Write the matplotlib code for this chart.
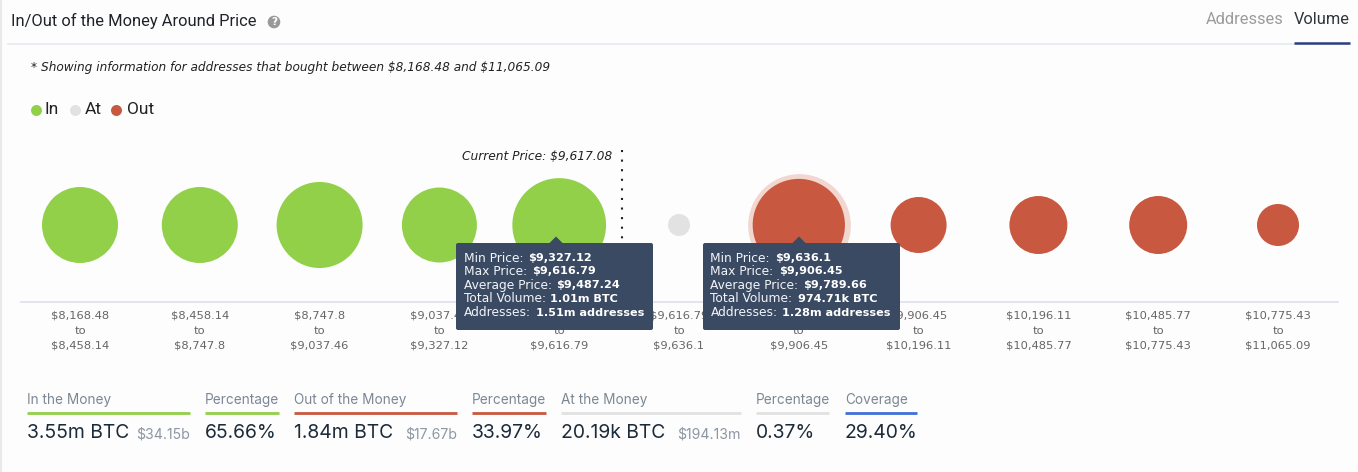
import numpy as np
import matplotlib
matplotlib.use("Agg")
import matplotlib.pyplot as plt
from matplotlib.patches import FancyBboxPatch, Polygon, Circle

plt.rcParams["text.parse_math"] = False

# ---- data ----
range_low = ["$8,168.48", "$8,458.14", "$8,747.8", "$9,037.46", "$9,327.12", "$9,616.79",
             "$9,636.1", "$9,906.45", "$10,196.11", "$10,485.77", "$10,775.43"]
range_high = ["$8,458.14", "$8,747.8", "$9,037.46", "$9,327.12", "$9,616.79", "$9,636.1",
              "$9,906.45", "$10,196.11", "$10,485.77", "$10,775.43", "$11,065.09"]
volume_k = [661, 661, 847, 644, 1005, 20.19, 974.71, 359, 385, 385, 202]
status = ["In", "In", "In", "In", "In", "At", "Out", "Out", "Out", "Out", "Out"]
legend_labels = ["In", "At", "Out"]
tip_left = [("Min Price:", "$9,327.12"), ("Max Price:", "$9,616.79"), ("Average Price:", "$9,487.24"),
            ("Total Volume:", "1.01m BTC"), ("Addresses:", "1.51m addresses")]
tip_right = [("Min Price:", "$9,636.1"), ("Max Price:", "$9,906.45"), ("Average Price:", "$9,789.66"),
             ("Total Volume:", "974.71k BTC"), ("Addresses:", "1.28m addresses")]
stat_heads = ["In the Money", "Percentage", "Out of the Money", "Percentage", "At the Money", "Percentage", "Coverage"]
stat_values = ["3.55m BTC", "65.66%", "1.84m BTC", "33.97%", "20.19k BTC", "0.37%", "29.40%"]
stat_usd = ["$34.15b", "", "$17.67b", "", "$194.13m", "", ""]
stat_kind = ["In", "In", "Out", "Out", "At", "At", "Cov"]

# ---- styles ----
COL = {"In": "#91d048", "At": "#e2e2e2", "Out": "#c95840", "Cov": "#3f6fd8"}
NAVY = "#3a4a63"
W, H = 1358, 472
SANS = "Roboto"
UI = "Inter"
V = "DejaVu Sans"
px = 0.72

fig = plt.figure(figsize=(W / 100, H / 100), dpi=100, facecolor="#fdfdfd")
ax = fig.add_axes([0, 0, 1, 1])
ax.set_xlim(0, W)
ax.set_ylim(H, 0)
ax.axis("off")

def T(x, y, s, size, color="#222222", ha="left", va="center", family=V, **kw):
    return ax.text(x, y, s, fontsize=size * px, color=color, ha=ha, va=va, family=family, **kw)

# header
ax.plot([0.8, 0.8], [0, H], color="#e9e9e9", lw=1.6)
T(11, 21, "In/Out of the Money Around Price", 16.45, color="#1f2329", family=SANS)
ax.add_patch(Circle((274, 22), 6.3, color="#999999", lw=0))
T(274, 22, "?", 10.5, color="white", ha="center", weight="bold")
T(1284, 20, "Addresses", 16.4, color="#9b9b9b", ha="right", family=SANS)
T(1350, 20, "Volume", 16.4, color="#30343b", ha="right", family=SANS)
ax.plot([8, 1350], [44, 44], color="#e7e9f1", lw=1.2)
ax.plot([1294, 1350], [42.5, 42.5], color="#2b3f7e", lw=1.8, solid_capstyle="butt")
T(31, 68, "* Showing information for addresses that bought between $8,168.48 and $11,065.09",
  12.13, color="#222222", style="italic")

# legend
for lx, tx, lab in zip([36, 75, 116], [45, 85, 127], legend_labels):
    ax.scatter([lx], [110], s=(2 * 5.5 * px) ** 2, color=COL[lab], lw=0)
    T(tx, 109.5, lab, 17.4, color="#222222", family=SANS)

# bubbles
xs = 80 + 119.8 * np.arange(len(volume_k))
KPX = 0.458
radii = np.maximum(np.sqrt(np.array(volume_k) / KPX), 11)
ax.scatter([xs[6]], [225], s=(2 * (radii[6] + 5.2) * px) ** 2, color="#f2d6d0", lw=0, zorder=2)
ax.scatter(xs, np.full(len(xs), 225), s=(2 * radii * px) ** 2,
           color=[COL[s] for s in status], lw=0, zorder=3)

# axis line and range labels
ax.plot([21, 1338], [301.5, 301.5], color="#dde1ee", lw=1.2, zorder=1)
for x, lo, hi in zip(xs, range_low, range_high):
    T(x, 316, lo, 11.5, color="#666666", ha="center", zorder=2)
    T(x, 331, "to", 11.5, color="#666666", ha="center", zorder=2)
    T(x, 345.5, hi, 11.5, color="#666666", ha="center", zorder=2)

# current price marker
ax.plot([622, 622], [150, 243], color="#222222", lw=1.5, ls=(0, (1, 3.6)), zorder=1)
T(612, 156, "Current Price: $9,617.08", 12.2, color="#222222", ha="right", style="italic")

# tooltips
fig.canvas.draw()
rend = fig.canvas.get_renderer()

def tooltip(x0, tipx, lines):
    ax.add_patch(FancyBboxPatch((x0, 243), 197, 87, boxstyle="round,pad=0,rounding_size=2",
                                fc=NAVY, ec="none", zorder=5))
    ax.add_patch(Polygon([(tipx - 7, 243.5), (tipx, 236.5), (tipx + 7, 243.5)], fc=NAVY, ec="none", zorder=5))
    for y, (a, b) in zip([258, 271.5, 285.3, 299, 313], lines):
        t = T(x0 + 7.5, y, a, 12.2, color="#f2f4f7", zorder=6)
        end = t.get_window_extent(rend).x1
        T(end + 5, y, b, 11.2, color="white", weight="bold", zorder=6)

tooltip(456, 556, tip_left)
tooltip(703, 799, tip_right)

# stats row
spans = [(27, 190), (205, 279), (294, 457), (472, 546), (561, 741), (756, 829), (845, 917)]
for (x0, x1), head, val, usd, kind in zip(spans, stat_heads, stat_values, stat_usd, stat_kind):
    T(x0, 400, head, 13.6, color="#7c8794", family=UI)
    ax.plot([x0, x1], [412.5, 412.5], color=COL[kind], lw=2, solid_capstyle="butt")
    T(x0, 432.5, val, 19.3, color="#1c2b3a", family=UI)
    if usd:
        T(x1, 434, usd, 14.1, color="#8d97a3", ha="right", family=UI)

fig.savefig("out.png", dpi=100, facecolor=fig.get_facecolor())
